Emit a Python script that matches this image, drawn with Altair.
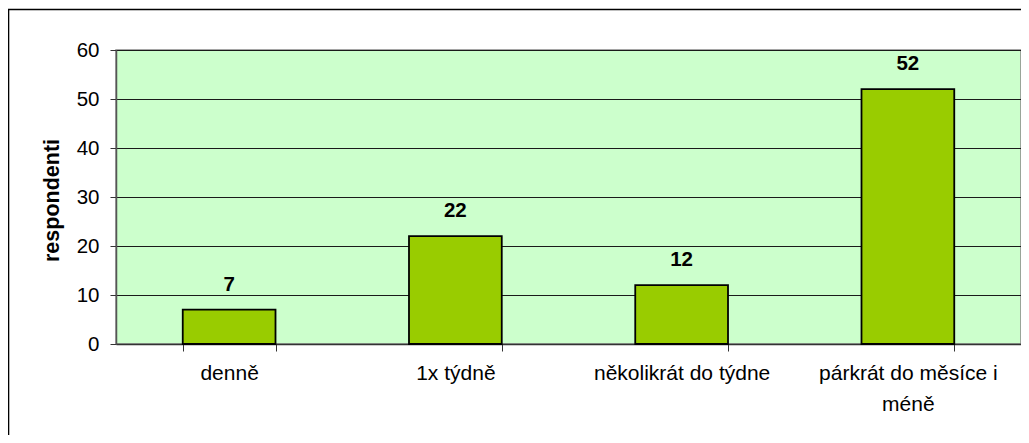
import altair as alt
import pandas as pd

categories = ["denně", "1x týdně", "několikrát do týdne", "párkrát do měsíce i méně"]
values = [7, 22, 12, 52]
y_ticks = [0, 10, 20, 30, 40, 50, 60]

df = pd.DataFrame({"kategorie": categories, "respondenti": values})

FONT = "Arial, Liberation Sans, sans-serif"
W, H = 905, 294

x_enc = alt.X(
    "kategorie:N",
    sort=categories,
    scale=alt.Scale(paddingInner=0.59, paddingOuter=0.295),
    axis=alt.Axis(
        title=None,
        labelAngle=0,
        labelFont=FONT,
        labelFontSize=21,
        labelColor="#000000",
        labelPadding=11,
        labelLineHeight=31,
        labelBaseline="top",
        labelExpr="datum.value == 'párkrát do měsíce i méně' ? ['párkrát do měsíce i', 'méně'] : datum.value",
        tickBand="extent",
        tickSize=7,
        tickColor="#333333",
        domainColor="#333333",
        domainWidth=1.5,
        grid=False,
    ),
)

y_enc = alt.Y(
    "respondenti:Q",
    scale=alt.Scale(domain=[0, 60], nice=False),
    axis=alt.Axis(
        values=y_ticks,
        title="respondenti",
        titleFont=FONT,
        titleFontSize=21.5,
        titleFontWeight="bold",
        titleColor="#000000",
        titleAngle=270,
        titleX=-64,
        titleY=H / 2 + 3,
        titleAlign="center",
        titleBaseline="middle",
        labelFont=FONT,
        labelFontSize=20.5,
        labelColor="#000000",
        labelPadding=11,
        tickSize=6,
        tickColor="#333333",
        domainColor="#555555",
        domainWidth=1.5,
        grid=True,
        gridColor="#1a1a1a",
        gridWidth=1,
    ),
)

bars = alt.Chart(df).mark_bar(
    color="#99CC00", stroke="#000000", strokeWidth=1.8
).encode(x=x_enc, y=y_enc)

labels = alt.Chart(df).mark_text(
    font=FONT, fontSize=20.5, fontWeight="bold", color="#000000",
    baseline="alphabetic", dy=-19
).encode(
    x=alt.X("kategorie:N", sort=categories),
    y=alt.Y("respondenti:Q"),
    text=alt.Text("respondenti:Q"),
)

frame = alt.Chart(pd.DataFrame({"f": [0]})).mark_rect(
    fill=None, stroke="#000000", strokeWidth=1.6
).encode(
    x=alt.value(-107.5), x2=alt.value(W + 200),
    y=alt.value(-40.5), y2=alt.value(H + 300),
)

chart = alt.layer(bars, labels, frame).properties(
    width=W,
    height=H,
    autosize=alt.AutoSizeParams(type="none"),
    padding={"left": 108, "top": 42, "right": 0, "bottom": 91},
    background="#ffffff",
).configure_view(
    fill="#CCFFCC", stroke="#888888", strokeWidth=1.5
)

chart.save("out.html", embed_options={"renderer": "svg", "actions": False})
